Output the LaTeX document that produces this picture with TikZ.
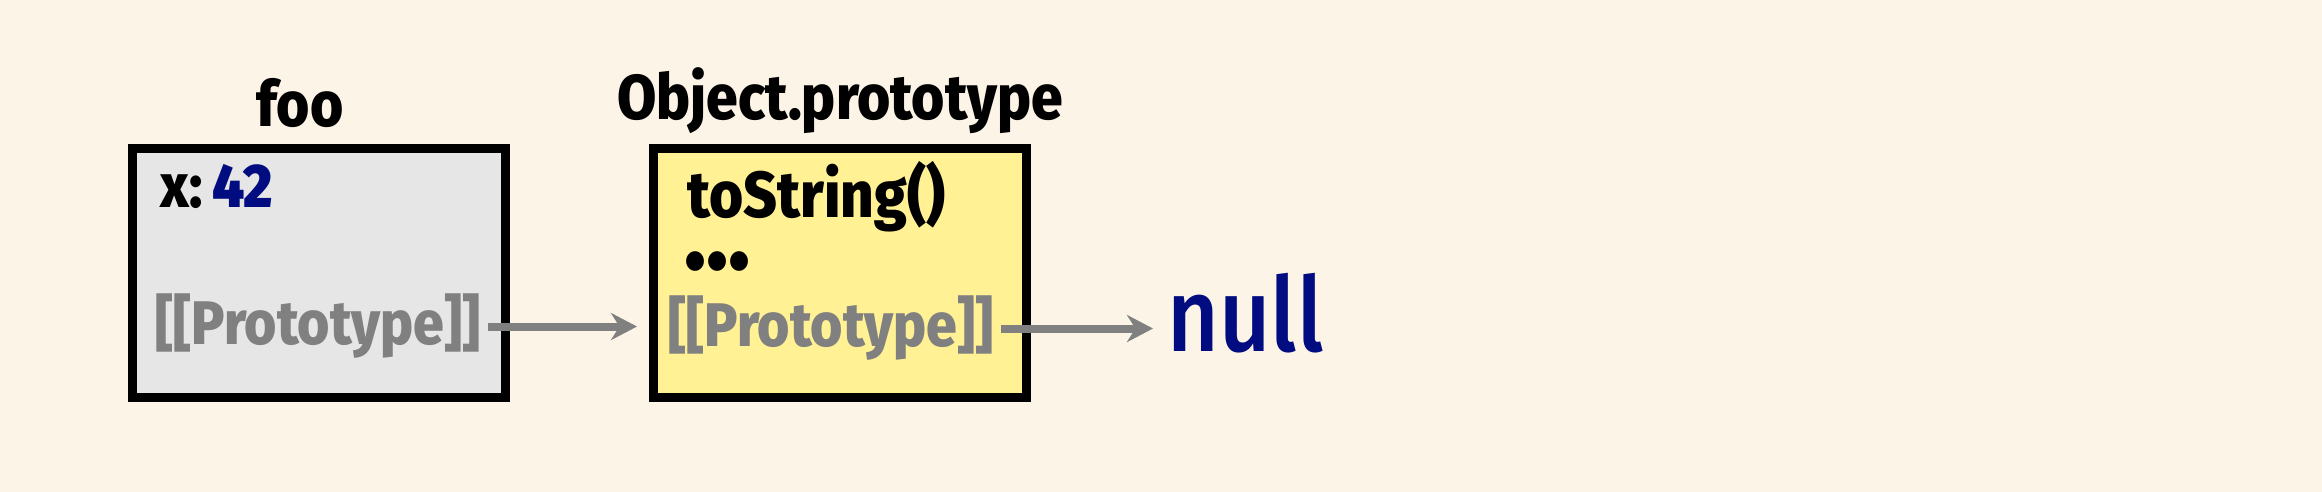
\documentclass[tikz,border=0pt]{standalone}
\usepackage{fontspec}
\setmainfont{Fira Sans}[FakeStretch=0.9, BoldFont={Fira Sans ExtraBold}, BoldFeatures={FakeStretch=0.9}]
\newfontfamily\semifont{Fira Sans SemiBold}[FakeStretch=0.9]
\newfontfamily\medfont{Fira Sans Medium}[FakeStretch=0.86]
\usetikzlibrary{arrows.meta,positioning}

\definecolor{bgcol}{HTML}{FCF4E7}
\definecolor{boxgray}{HTML}{E6E6E6}
\definecolor{boxyellow}{HTML}{FFF194}
\definecolor{protogray}{HTML}{808080}
\definecolor{valblue}{HTML}{000C80}

\tikzset{
  objbox/.style={draw=black, line width=0.09cm, minimum width=3.73cm, minimum height=2.49cm, inner sep=0},
  boxlabel/.style={font=\fontsize{18}{20}\selectfont\bfseries, inner sep=0, anchor=base},
  slot/.style={font=\fontsize{17.5}{20}\selectfont\bfseries, inner sep=0, anchor=base west},
  proto/.style={slot, text=protogray, inner xsep=0.07cm},
  link/.style={draw=protogray, line width=0.08cm, -{Stealth[length=0.26cm,width=0.27cm]}}
}

\begin{document}
\begin{tikzpicture}
  \fill[bgcol] (0,0) rectangle (23.22,4.92);
  \useasboundingbox (0,0) rectangle (23.22,4.92);

  % foo
  \node[objbox, fill=boxgray] (foo) at (3.19,2.19) {};
  \node[boxlabel] (foolabel) at (3.0,3.65) {foo};
  \node[slot] (fooprop) at (1.60,2.84) {x:\hspace{0.15em}\textcolor{valblue}{\semifont 42}};
  \node[proto] (fooproto) at (1.48,1.47) {[[Prototype]]};

  % Object.prototype
  \node[objbox, fill=boxyellow] (objp) at (8.395,2.19) {};
  \node[boxlabel] (objplabel) at (8.40,3.72) {Object.prototype};
  \node[slot, font=\fontsize{18.5}{20}\selectfont\bfseries] (tostr) at (6.87,2.74) {toString()};
  \node[slot, font=\fontsize{29}{30}\selectfont\bfseries] (more) at (6.84,2.22) {...};
  \node[proto] (objproto) at (6.61,1.45) {[[Prototype]]};

  \node[font=\fontsize{29.5}{32}\medfont, text=valblue, inner sep=0, anchor=base west] (null) at (11.67,1.40) {null};

  \draw[link, shorten >=0.24cm] (fooproto.east) -- (fooproto.east -| objproto.west);
  \draw[link, shorten >=0.14cm] (objproto.east) -- (objproto.east -| null.west);
\end{tikzpicture}
\end{document}
